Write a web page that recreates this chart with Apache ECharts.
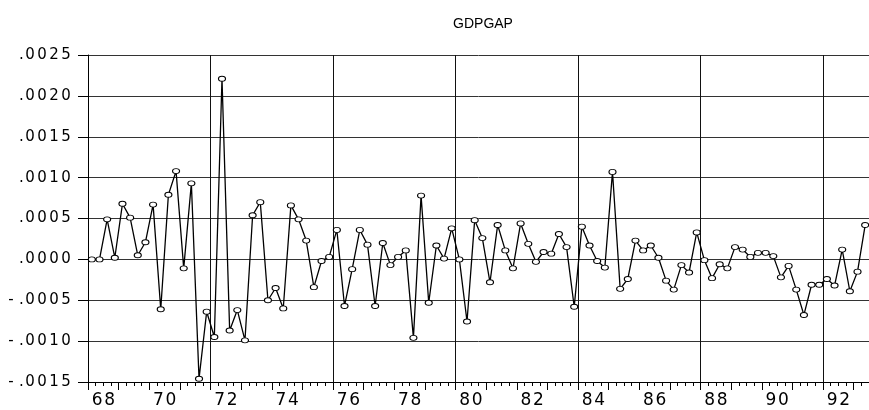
<!DOCTYPE html>
<html><head><meta charset="utf-8">
<script src="https://cdn.jsdelivr.net/npm/echarts@6/dist/echarts.min.js"></script>
<style>html,body{margin:0;padding:0;background:#fff}#c{width:869px;height:410px}</style>
</head><body><div id="c"></div>
<script>
const chartTitle = 'GDPGAP';
const startYear = 1968;
const nObs = 102;
const quarters = [];
for (let i = 0; i < nObs; i++) {
  quarters.push((startYear + Math.floor(i / 4)) + 'Q' + (i % 4 + 1));
}
const gdpgap = [
  0.00000, 0.00000, 0.00049, 0.00002, 0.00068, 0.00051, 0.00005, 0.00021,
  0.00067, -0.00061, 0.00079, 0.00108, -0.00011, 0.00093, -0.00146, -0.00064,
  -0.00095, 0.00221, -0.00087, -0.00062, -0.00099, 0.00054, 0.00070, -0.00050,
  -0.00035, -0.00060, 0.00066, 0.00049, 0.00023, -0.00034, -0.00002, 0.00003,
  0.00036, -0.00057, -0.00012, 0.00036, 0.00018, -0.00057, 0.00020, -0.00007,
  0.00003, 0.00011, -0.00096, 0.00078, -0.00053, 0.00017, 0.00001, 0.00038,
  0.00000, -0.00076, 0.00048, 0.00026, -0.00028, 0.00042, 0.00011, -0.00011,
  0.00044, 0.00019, -0.00003, 0.00009, 0.00007, 0.00031, 0.00015, -0.00058,
  0.00040, 0.00017, -0.00002, -0.00010, 0.00107, -0.00036, -0.00024, 0.00023,
  0.00011, 0.00017, 0.00002, -0.00026, -0.00037, -0.00007, -0.00016, 0.00033,
  -0.00001, -0.00023, -0.00006, -0.00011, 0.00015, 0.00012, 0.00003, 0.00008,
  0.00008, 0.00004, -0.00022, -0.00008, -0.00037, -0.00068, -0.00031, -0.00031,
  -0.00024, -0.00032, 0.00012, -0.00039, -0.00015, 0.00042
];
const yMin = -0.0015, yMax = 0.0025, yStep = 0.0005;

function spread(s) {
  return s.split('').map(function (c) {
    if (c === '.') return '{p|.}';
    if (c === '-') return '{m|-}';
    return '{d|' + c + '}';
  }).join('');
}
const FONT = 'DejaVu Sans';
const chart = echarts.init(document.getElementById('c'), null, {renderer: 'canvas'});
const xCommon = {
  type: 'category', data: quarters, boundaryGap: true, gridIndex: 0, position: 'bottom'
};
chart.setOption({
  animation: false,
  backgroundColor: '#fff',
  title: {
    text: chartTitle, left: 478, top: 12, textAlign: 'center',
    textStyle: {fontFamily: 'Liberation Sans', fontSize: 14, fontWeight: 'normal', color: '#000'}
  },
  grid: {left: 88, right: -3, top: 55, bottom: 28, containLabel: false},
  xAxis: [
    Object.assign({}, xCommon, {
      axisLine: {show: true, onZero: false, lineStyle: {color: '#000', width: 1}},
      axisTick: {show: true, length: 8, lineStyle: {color: '#000'},
        interval: function (idx) { return idx % 4 === 0; }},
      splitLine: {show: true, lineStyle: {color: '#111', width: 1},
        interval: function (idx) { return idx % 16 === 0; }},
      axisLabel: {
        show: true, margin: 10, padding: [0, 0, 0, 7.7],
        interval: function (idx) { return idx % 8 === 1; },
        formatter: function (v) { return spread(String(v).slice(2, 4)); },
        rich: {
          d: {width: 12.5, align: 'center', fontSize: 17, fontFamily: FONT, color: '#000'}
        }
      }
    }),
    Object.assign({}, xCommon, {
      axisLine: {show: false, onZero: false},
      axisTick: {show: true, length: 4, interval: 0, lineStyle: {color: '#000'}},
      splitLine: {show: false},
      axisLabel: {show: false}
    })
  ],
  yAxis: {
    type: 'value', min: yMin, max: yMax, interval: yStep,
    axisLine: {show: true, onZero: false, lineStyle: {color: '#000', width: 1}},
    axisTick: {show: true, length: 10, inside: false, lineStyle: {color: '#000'}},
    splitLine: {show: true, lineStyle: {color: '#333', width: 1}},
    axisLabel: {
      margin: 16, align: 'right',
      formatter: function (v) {
        if (Math.abs(v) < 1e-10) v = 0;
        return spread(v.toFixed(4).replace('0.', '.'));
      },
      rich: {
        d: {width: 12, align: 'center', fontSize: 15, fontFamily: FONT, color: '#000'},
        p: {width: 5, align: 'center', fontSize: 15, fontFamily: FONT, color: '#000'},
        m: {width: 16, align: 'center', fontSize: 15, fontFamily: FONT, color: '#000'}
      }
    }
  },
  series: [{
    name: chartTitle, type: 'line', xAxisIndex: 0, yAxisIndex: 0,
    data: gdpgap,
    symbol: 'circle', symbolSize: [7, 5], showSymbol: true,
    lineStyle: {color: '#000', width: 1.3},
    itemStyle: {color: '#fff', borderColor: '#000', borderWidth: 1},
    emphasis: {disabled: true}
  }]
});
</script>
</body></html>
